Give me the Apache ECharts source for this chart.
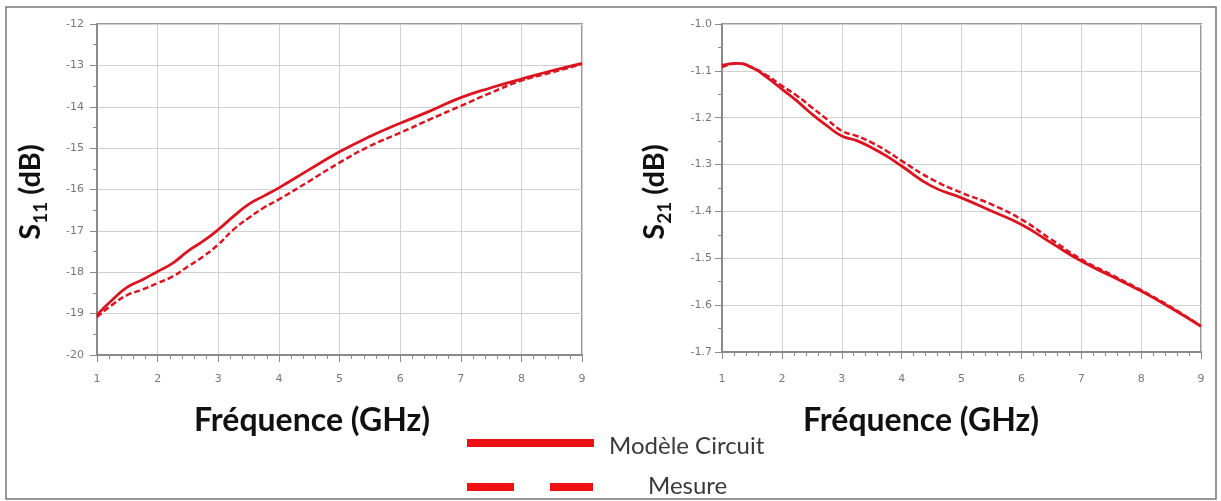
<!DOCTYPE html>
<html>
<head>
<meta charset="UTF-8">
<title>S11 / S21</title>
<script src="https://cdn.jsdelivr.net/npm/echarts@6/dist/echarts.min.js"></script>
<style>
	html, body { margin: 0; padding: 0; background: #fff; }
	#chart { width: 1221px; height: 501px; }
</style>
</head>
<body>
<div id="chart"></div>
<script type="text/javascript">
// frequences (GHz)
var freq = [1, 1.25, 1.5, 1.75, 2, 2.25, 2.5, 2.75, 3, 3.25, 3.5, 3.75, 4, 4.5, 5, 5.5, 6, 6.5, 7, 7.5, 8, 8.5, 9];

// S11 (dB)
var s11Modele = [-19.03, -18.67, -18.36, -18.18, -17.98, -17.78, -17.49, -17.25, -16.97, -16.65, -16.36, -16.16, -15.96, -15.52, -15.09, -14.72, -14.40, -14.10, -13.78, -13.54, -13.33, -13.13, -12.95];
var s11Mesure = [-19.08, -18.79, -18.55, -18.42, -18.26, -18.10, -17.86, -17.62, -17.33, -16.97, -16.69, -16.44, -16.24, -15.80, -15.35, -14.95, -14.63, -14.30, -13.98, -13.66, -13.37, -13.17, -12.97];

// S21 (dB)
var s21Modele = [-1.088, -1.084, -1.093, -1.114, -1.139, -1.164, -1.192, -1.217, -1.239, -1.249, -1.264, -1.282, -1.303, -1.346, -1.371, -1.399, -1.428, -1.467, -1.506, -1.538, -1.570, -1.606, -1.645];
var s21Mesure = [-1.092, -1.084, -1.093, -1.110, -1.132, -1.153, -1.178, -1.203, -1.228, -1.239, -1.253, -1.271, -1.292, -1.331, -1.360, -1.385, -1.417, -1.460, -1.502, -1.535, -1.568, -1.604, -1.645];

var legendNames = ['Modèle Circuit', 'Mesure'];

function pairs(xs, ys) {
	var out = [];
	for (var i = 0; i < xs.length; i++) out.push([xs[i], ys[i]]);
	return out;
}

var chart = echarts.init(document.getElementById('chart'));

var gridLine = { show: true, lineStyle: { color: '#d0d0d0', width: 1 } };
var axisLab = { color: '#777', fontSize: 11, fontFamily: 'DejaVu Sans' };
var axisLn = { show: true, onZero: false, lineStyle: { color: '#8a8a8a', width: 2 } };

function xAxisOf(idx, gap) {
	return {
		type: 'value', gridIndex: idx, min: 1, max: 9, interval: 1,
		axisLine: axisLn,
		axisTick: { show: true, length: 7, lineStyle: { color: '#8a8a8a' } },
		minorTick: { show: true, splitNumber: 5, length: 4, lineStyle: { color: '#8a8a8a' } },
		axisLabel: Object.assign({ margin: gap }, axisLab),
		splitLine: gridLine
	};
}

function yAxisOf(idx, lo, hi, step, gap, digits) {
	return {
		type: 'value', gridIndex: idx, min: lo, max: hi, interval: step,
		axisLine: axisLn,
		axisTick: { show: true, length: 7, lineStyle: { color: '#8a8a8a' } },
		minorTick: { show: true, splitNumber: 2, length: 4, lineStyle: { color: '#8a8a8a' } },
		axisLabel: Object.assign({ margin: gap, formatter: function (v) { return v.toFixed(digits); } }, axisLab),
		splitLine: gridLine
	};
}

function yTitle(x, sub) {
	var big = { fontFamily: 'Lato', fontWeight: 'bold', fontSize: 29, lineHeight: 38, fill: '#111', verticalAlign: 'middle' };
	var small = { fontFamily: 'Lato', fontWeight: 'bold', fontSize: 19, lineHeight: 21, fill: '#111', verticalAlign: 'bottom' };
	return {
		type: 'text', x: x, y: 192, rotation: Math.PI / 2,
		style: { text: '{s|S}{sub|' + sub + '}{s| (dB)}', align: 'center', verticalAlign: 'middle', rich: { s: big, sub: small } }
	};
}

var redC = '#dc1420';

chart.setOption({
	animation: false,
	grid: [
		{ left: 97, top: 24, width: 485, height: 331, show: true, borderColor: '#9a9a9a', borderWidth: 2 },
		{ left: 722, top: 24, width: 479, height: 328, show: true, borderColor: '#9a9a9a', borderWidth: 2 }
	],
	xAxis: [xAxisOf(0, 19), xAxisOf(1, 22)],
	yAxis: [yAxisOf(0, -20, -12, 1, 13, 0), yAxisOf(1, -1.7, -1.0, 0.1, 10, 1)],
	series: [
		{ name: legendNames[0], type: 'line', xAxisIndex: 0, yAxisIndex: 0, data: pairs(freq, s11Modele), smooth: true, showSymbol: false, lineStyle: { color: redC, width: 2.8 } },
		{ name: legendNames[1], type: 'line', xAxisIndex: 0, yAxisIndex: 0, data: pairs(freq, s11Mesure), smooth: true, showSymbol: false, lineStyle: { color: redC, width: 2.5, type: [6, 3] } },
		{ name: legendNames[0], type: 'line', xAxisIndex: 1, yAxisIndex: 1, data: pairs(freq, s21Modele), smooth: true, showSymbol: false, lineStyle: { color: redC, width: 2.8 } },
		{ name: legendNames[1], type: 'line', xAxisIndex: 1, yAxisIndex: 1, data: pairs(freq, s21Mesure), smooth: true, showSymbol: false, lineStyle: { color: redC, width: 2.5, type: [6, 3] } }
	],
	graphic: [
		// cadre exterieur
		{ type: 'rect', shape: { x: 6, y: 7, width: 1210, height: 492 }, style: { fill: 'none', stroke: '#777', lineWidth: 1.5 } },
		// titres des axes Y
		yTitle(31, '11'),
		yTitle(655, '21'),
		// titres des axes X
		{ type: 'text', x: 312, y: 421, style: { text: 'Fréquence (GHz)', align: 'center', verticalAlign: 'middle', font: 'bold 32px Lato', fill: '#111' } },
		{ type: 'text', x: 921, y: 421, style: { text: 'Fréquence (GHz)', align: 'center', verticalAlign: 'middle', font: 'bold 32px Lato', fill: '#111' } },
		// legende
		{ type: 'rect', shape: { x: 467, y: 439, width: 127, height: 8 }, style: { fill: '#ee1111' } },
		{ type: 'text', x: 609, y: 446, style: { text: legendNames[0], align: 'left', verticalAlign: 'middle', font: '24px Lato', fill: '#3a3a3a' } },
		{ type: 'rect', shape: { x: 467, y: 483, width: 47, height: 8 }, style: { fill: '#ee1111' } },
		{ type: 'rect', shape: { x: 550, y: 483, width: 43, height: 8 }, style: { fill: '#ee1111' } },
		{ type: 'text', x: 648, y: 486, style: { text: legendNames[1], align: 'left', verticalAlign: 'middle', font: '24px Lato', fill: '#3a3a3a' } }
	]
});
</script>
</body>
</html>
